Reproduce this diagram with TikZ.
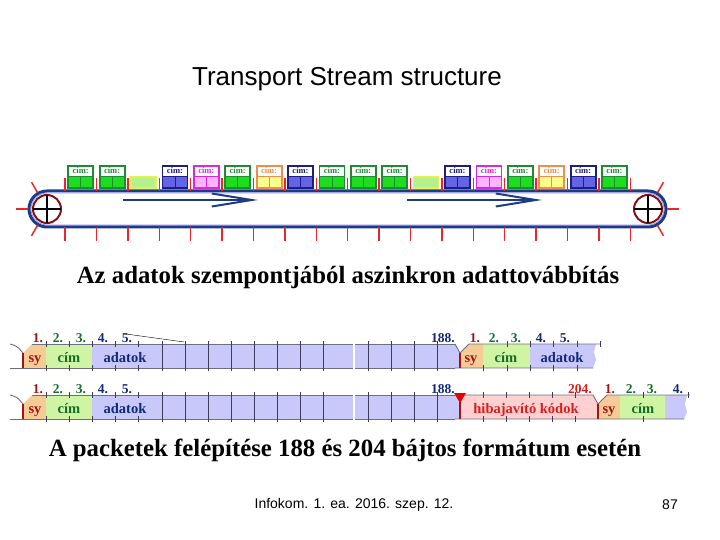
\documentclass[tikz,border=0pt]{standalone}
\usepackage{fontspec}
\setmainfont{Liberation Serif}
\setsansfont{Liberation Sans}
\usetikzlibrary{arrows.meta}
\definecolor{beltc}{RGB}{30,60,130}\definecolor{wheelc}{RGB}{128,20,20}\definecolor{spokec}{RGB}{230,40,40}
\definecolor{gbd}{RGB}{30,140,50}\definecolor{gfl}{RGB}{30,220,30}
\definecolor{bbd}{RGB}{30,30,130}\definecolor{bfl}{RGB}{100,100,230}
\definecolor{pbd}{RGB}{220,40,220}\definecolor{pfl}{RGB}{255,180,255}
\definecolor{obd}{RGB}{240,140,80}\definecolor{ofl}{RGB}{255,255,140}
\definecolor{ybd}{RGB}{230,240,80}\definecolor{yfl}{RGB}{180,240,140}
\definecolor{syc}{RGB}{246,204,150}\definecolor{cimc}{RGB}{206,244,164}\definecolor{datc}{RGB}{200,200,250}\definecolor{hibc}{RGB}{255,208,208}
\definecolor{lbnavy}{RGB}{20,40,120}\definecolor{lbgreen}{RGB}{20,110,40}\definecolor{lbred}{RGB}{160,20,20}\definecolor{lbhib}{RGB}{215,30,30}
\definecolor{edgec}{RGB}{110,110,130}\definecolor{bytec}{RGB}{60,60,90}
\tikzset{>=Stealth,every node/.style={inner sep=0pt},
 belt/.style={line width=3pt,draw=beltc,rounded corners=18pt},
 spoke/.style={line width=1.5pt,spokec},beltmark/.style={line width=1.4pt,spokec},
 flow/.style={line width=2pt,beltc,-{Straight Barb[length=40pt,width=13pt]}},
 edge/.style={line width=.9pt,edgec},byteline/.style={line width=1pt,bytec},syline/.style={line width=1.5pt,lbred},
 numlbl/.style={font=\fontsize{13.5}{13.5}\selectfont\bfseries,anchor=base},
 fieldlbl/.style={font=\fontsize{14.5}{14.5}\selectfont\bfseries,anchor=base},
 heading/.style={font=\fontsize{24.8}{24.8}\selectfont\bfseries}}
\begin{document}
\begin{tikzpicture}[x=1pt,y=-1pt]
\useasboundingbox (0,0) rectangle (720,540);
\node[font=\sffamily\fontsize{26}{26}\selectfont] (title) at (347,79) {Transport Stream structure};
% conveyor belt
\draw[belt] (29,191) rectangle (666,227);\draw[line width=.8pt,blue!45!white,rounded corners=16pt] (31,193) rectangle (664,225);
\foreach \w/\a in {47/180,648/0}{\draw[wheelc,line width=2pt] (\w,209) circle (14pt);\draw[line width=1.2pt] (\w-14,209)--(\w+14,209) (\w,195)--(\w,223);
 \foreach \d in {-60,0,60}{\draw[spoke] (\w,209)++(\a+\d:19)--++(\a+\d:12);}}
\foreach \k in {0,...,18}{\draw[beltmark] (65+31.4*\k,178)--(65+31.4*\k,191) (65+31.4*\k,227)--(65+31.4*\k,241);}
\foreach \k/\cl in {0/g,1/g,3/b,4/p,5/g,6/o,7/b,8/g,9/g,10/g,12/b,13/p,14/g,15/o,16/b,17/g}{\pgfmathsetmacro\cx{80.7+31.4*\k}
 \fill[fill=\cl fl] (\cx-12.5,176) rectangle (\cx+12.5,188);\draw[draw=\cl bd,line width=1.8pt] (\cx-12.5,166) rectangle (\cx+12.5,188);
 \draw[draw=\cl bd,line width=.8pt] (\cx-12.5,176)--(\cx+12.5,176) (\cx,176)--(\cx,188);
 \node[text=\cl bd,font=\fontsize{8.5}{8.5}\selectfont\bfseries] (cim\k) at (\cx,171) {cím:};}
\foreach \k in {2,11}{\pgfmathsetmacro\cx{80.7+31.4*\k}\draw[draw=ybd,fill=yfl,line width=1.6pt] (\cx-12.5,177) rectangle (\cx+12.5,188);}
\draw[flow] (123,200)--(258,200);\draw[flow] (407,200)--(542,200);
\node[heading] (async) at (348,278) {Az adatok szempontjából aszinkron adattovábbítás};
% packets, common part
\foreach \yt/\r in {344/1,395/2}{
 \fill[syc] (23,\yt+24)--(23,\yt+9)--(32,\yt)--(46,\yt)--(46,\yt+24)--cycle;\fill[cimc] (46,\yt) rectangle (92,\yt+24);
 \fill[datc] (92,\yt) rectangle (353,\yt+24);\fill[datc] (355,\yt) rectangle (455,\yt+24);
 \draw[edge] (10,\yt) .. controls (17,\yt+2) .. (23,\yt+9);\draw[edge] (32,\yt)--(353,\yt) (10,\yt+24)--(353,\yt+24) (355,\yt)--(455,\yt) (355,\yt+24)--(455,\yt+24);
 \draw[syline] (23,\yt+9)--(23,\yt+24);
 \foreach \x in {46,69,...,138}{\draw[byteline] (\x,\yt-3)--(\x,\yt+3) (\x,\yt+21)--(\x,\yt+27);}
 \foreach \x in {162,185,...,345,368,391,414,437}{\draw[byteline] (\x,\yt-3)--(\x,\yt+27);}
 \foreach \n/\x/\cl in {1/38/lbred,2/58/lbgreen,3/81/lbgreen,4/103/lbnavy,5/127/lbnavy}{\node[numlbl,text=\cl] (n\r\n) at (\x,\yt-2) {\n.};}
 \node[numlbl,text=lbnavy] (e\r) at (443,\yt-2) {188.};
 \node[fieldlbl,text=lbred] (sy\r) at (35,\yt+18.5) {sy};\node[fieldlbl,text=lbgreen] (cm\r) at (69,\yt+18.5) {cím};\node[fieldlbl,text=lbnavy] (ad\r) at (125,\yt+18.5) {adatok};}
\draw (126,334)--(184,342);
% 188 byte packet
\fill[datc] (455,344)--(460,353)--(460,368)--(455,368)--cycle;
\fill[syc] (460,368)--(460,353)--(469,344)--(483,344)--(483,368)--cycle;\fill[cimc] (483,344) rectangle (530,368);
\fill[datc] (530,344)--(596,344)--(594,352)--(596,360)--(593,368)--(530,368)--cycle;
\draw[edge] (455,344)--(460,353)--(469,344)--(600,344) (455,368)--(593,368);\draw[syline] (460,353)--(460,368);
\foreach \x in {507,530,553,577,600}{\draw[byteline] (\x,341)--(\x,347);}\foreach \x in {483,507,530,553,577}{\draw[byteline] (\x,365)--(\x,371);}
\foreach \n/\x/\cl in {1/475/lbred,2/494/lbgreen,3/516/lbgreen,4/541/lbnavy,5/565/lbnavy}{\node[numlbl,text=\cl] (m\n) at (\x,342) {\n.};}
\node[fieldlbl,text=lbred] (sy3) at (471,362.5) {sy};\node[fieldlbl,text=lbgreen] (cm3) at (506,362.5) {cím};\node[fieldlbl,text=lbnavy] (ad3) at (562,362.5) {adatok};
% 204 byte packet
\fill[datc] (455,395) rectangle (460,419);
\fill[hibc] (460,395)--(593,395)--(598,404)--(598,419)--(460,419)--cycle;
\fill[syc] (598,419)--(598,404)--(607,395)--(620,395)--(620,419)--cycle;\fill[cimc] (620,395) rectangle (665,419);
\fill[datc] (665,395)--(687,395)--(685,404)--(687,412)--(684,419)--(665,419)--cycle;
\draw[edge] (455,395)--(593,395)--(598,404)--(607,395)--(690,395) (455,419)--(684,419);\draw[syline] (598,404)--(598,419);
\foreach \x in {483,506,529,552,575,643,688}{\draw[byteline] (\x,392)--(\x,398);}\foreach \x in {483,506,529,552,575,643}{\draw[byteline] (\x,416)--(\x,422);}
\draw[syline] (460,402)--(460,419);\fill[red!90!black] (454,393)--(466,393)--(460,403)--cycle;
\node[numlbl,text=lbhib] (e204) at (580,393) {204.};
\foreach \n/\x/\cl in {1/610/lbred,2/631/lbgreen,3/652/lbgreen,4/678/lbnavy}{\node[numlbl,text=\cl] (k\n) at (\x,393) {\n.};}
\node[fieldlbl,text=lbhib] (hib) at (526,413.5) {hibajavító kódok};
\node[fieldlbl,text=lbred] (sy4) at (609,413.5) {sy};\node[fieldlbl,text=lbgreen] (cm4) at (643,413.5) {cím};
\node[heading] (pkt) at (345,450) {A packetek felépítése 188 és 204 bájtos formátum esetén};
\node[font=\sffamily\fontsize{14}{14}\selectfont] (foot) at (354,505) {Infokom. 1. ea. 2016. szep. 12.};
\node[font=\sffamily\fontsize{14}{14}\selectfont] (page) at (670,505) {87};
\end{tikzpicture}
\end{document}
